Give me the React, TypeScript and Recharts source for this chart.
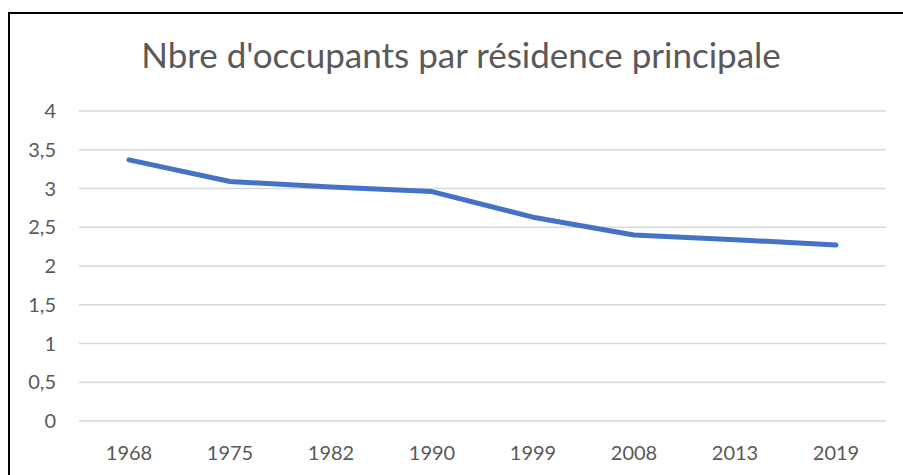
import { LineChart, Line, XAxis, YAxis, CartesianGrid } from 'recharts';

const years = ['1968', '1975', '1982', '1990', '1999', '2008', '2013', '2019'];
const occupants = [3.37, 3.09, 3.02, 2.96, 2.63, 2.4, 2.34, 2.27];
const yTicks = [0, 0.5, 1, 1.5, 2, 2.5, 3, 3.5, 4];

const data = years.map((year, i) => ({ year, value: occupants[i] }));

const font = 'Lato, "Open Sans", sans-serif';
const grey = '#595959';

export default function App() {
    return (
        <div style={{ position: 'absolute', left: 0, top: 0, width: 903, height: 475, background: '#fff', overflow: 'hidden', fontFamily: font }}>
            <div
                style={{
                    position: 'absolute', left: 8, top: 12, width: 903, height: 480,
                    borderLeft: '2px solid #000', borderTop: '2px solid #000',
                }}
            />
            <div
                style={{
                    position: 'absolute', left: 0, top: 37, width: 922, textAlign: 'center',
                    fontSize: 35, lineHeight: '35px', color: grey, whiteSpace: 'nowrap',
                }}
            >
                Nbre d'occupants par résidence principale
            </div>
            <div style={{ position: 'absolute', left: 0, top: 0 }}>
                <LineChart width={903} height={475} data={data} margin={{ top: 111, right: 17, left: 0, bottom: 14 }}>
                    <CartesianGrid vertical={false} stroke="#d9d9d9" strokeWidth={1.5} />
                    <XAxis
                        dataKey="year"
                        axisLine={false}
                        tickLine={false}
                        tickSize={0}
                        tickMargin={25}
                        height={40}
                        padding={{ left: 50, right: 50 }}
                        tick={{ fill: grey, fontSize: 20, fontFamily: font }}
                    />
                    <YAxis
                        domain={[0, 4]}
                        ticks={yTicks}
                        interval={0}
                        width={79}
                        axisLine={false}
                        tickLine={false}
                        tickSize={0}
                        tickMargin={23}
                        tick={{ fill: grey, fontSize: 20, fontFamily: font }}
                        tickFormatter={(v: number) => String(v).replace('.', ',')}
                    />
                    <Line
                        type="linear"
                        dataKey="value"
                        stroke="#4472c4"
                        strokeWidth={5}
                        strokeLinecap="round"
                        strokeLinejoin="round"
                        dot={false}
                        isAnimationActive={false}
                    />
                </LineChart>
            </div>
        </div>
    );
}
